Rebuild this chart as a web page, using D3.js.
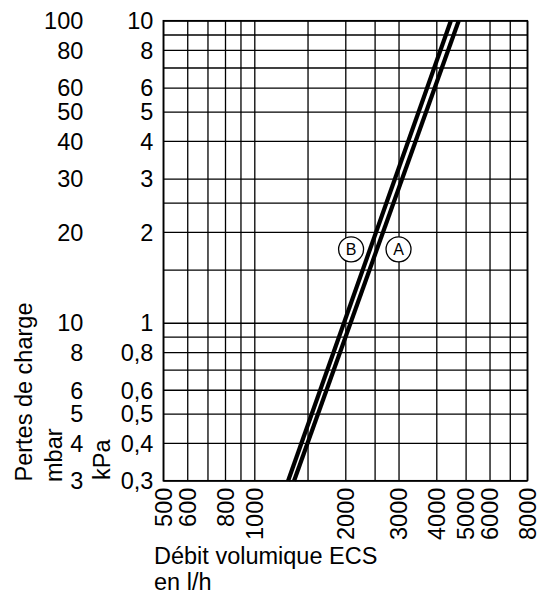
<!DOCTYPE html>
<html>
<head>
<meta charset="utf-8">
<script src="https://cdn.jsdelivr.net/npm/d3@7"></script>
<style>
    body { margin: 0; background: #fff; }
    svg { display: block; font-family: "Liberation Sans", Arial, sans-serif; }
    .grid line { stroke: #000; stroke-width: 1.3; }
</style>
</head>
<body>
<script>

// flow (l/h) on x, pressure loss on y, both log
let xTickValues = [500, 600, 800, 1000, 2000, 3000, 4000, 5000, 6000, 8000]
let xGridValues = [500, 600, 700, 800, 900, 1000, 1500, 2000, 2500, 3000, 4000, 5000, 6000, 7000, 8000]
let yGridValues = [0.3, 0.4, 0.5, 0.6, 0.7, 0.8, 0.9, 1, 1.5, 2, 2.5, 3, 4, 5, 6, 7, 8, 9, 10]

let kpaTicks = [10, 8, 6, 5, 4, 3, 2, 1, 0.8, 0.6, 0.5, 0.4, 0.3]
let kpaLabels = ["10", "8", "6", "5", "4", "3", "2", "1", "0,8", "0,6", "0,5", "0,4", "0,3"]
let mbarTicks = [100, 80, 60, 50, 40, 30, 20, 10, 8, 6, 5, 4, 3]

// curve A and B
let curveA_flow = [1354, 4745]
let curveA_kpa = [0.3, 10]
let curveB_flow = [1294, 4470]
let curveB_kpa = [0.3, 10]

let markNames = ["B", "A"]
let markFlow = [2090, 3000]
let markKpa = [1.75, 1.75]

let mLeft = 163.3, mTop = 20.7
let w = 364, h = 460
let fs = 23.5

let svg = d3.select("body")
            .append("svg")
                .attr("width", 544)
                .attr("height", 599)

let g = svg.append("g")
            .attr("transform", "translate(" + mLeft + "," + mTop + ")")

let x = d3.scaleLog().domain([500, 8000]).range([0, w])
let y = d3.scaleLog().domain([0.3, 10]).range([h, 0])
let yMbar = d3.scaleLog().domain([3, 100]).range([h, 0])

// grid
g.append("g")
    .attr("class", "grid")
    .attr("transform", "translate(0," + h + ")")
    .call(d3.axisBottom(x).tickValues(xGridValues).tickSize(-h).tickFormat(""))
    .call(a => a.select(".domain").remove())

g.append("g")
    .attr("class", "grid")
    .call(d3.axisLeft(y).tickValues(yGridValues).tickSize(-w).tickFormat(""))
    .call(a => a.select(".domain").remove())

g.append("rect")
    .attr("width", w)
    .attr("height", h)
    .attr("fill", "none")
    .attr("stroke", "#000")
    .attr("stroke-width", 1.5)

// x labels, turned
let xAxis = g.append("g")
            .attr("transform", "translate(0," + h + ")")
            .call(d3.axisBottom(x).tickValues(xTickValues).tickSize(0).tickFormat(d3.format("d")))
            .attr("font-family", null)
            .attr("font-size", fs)
xAxis.select(".domain").remove()
xAxis.selectAll("text")
    .attr("transform", "rotate(-90)")
    .attr("text-anchor", "end")
    .attr("x", -7)
    .attr("y", 0)
    .attr("dy", "0.35em")
    .attr("fill", "#000")

// kPa labels
let yAxis = g.append("g")
            .call(d3.axisLeft(y).tickValues(kpaTicks).tickSize(0).tickPadding(10)
                    .tickFormat((d, i) => kpaLabels[i]))
            .attr("font-family", null)
            .attr("font-size", fs)
yAxis.select(".domain").remove()
yAxis.selectAll("text")
    .attr("dy", "0.35em")
    .attr("fill", "#000")

// mbar labels
let mAxis = g.append("g")
            .call(d3.axisLeft(yMbar).tickValues(mbarTicks).tickSize(0).tickPadding(80)
                    .tickFormat(d3.format("d")))
            .attr("font-family", null)
            .attr("font-size", fs)
mAxis.select(".domain").remove()
mAxis.selectAll("text")
    .attr("dy", "0.35em")
    .attr("fill", "#000")

// the two curves
let line = d3.line()
            .x(d => x(d[0]))
            .y(d => y(d[1]))

let curves = [
    d3.zip(curveA_flow, curveA_kpa),
    d3.zip(curveB_flow, curveB_kpa)
]

g.selectAll(".curve")
    .data(curves)
    .enter()
    .append("path")
        .attr("class", "curve")
        .attr("d", line)
        .attr("fill", "none")
        .attr("stroke", "#000")
        .attr("stroke-width", 4.2)

// circled letters
let marks = g.selectAll(".mark")
            .data(markNames)
            .enter()
            .append("g")
                .attr("class", "mark")
                .attr("transform", (d, i) => "translate(" + x(markFlow[i]) + "," + y(markKpa[i]) + ")")

marks.append("circle")
    .attr("r", 12.5)
    .attr("fill", "#fff")
    .attr("stroke", "#000")
    .attr("stroke-width", 1.3)

marks.append("text")
    .text(d => d)
    .attr("text-anchor", "middle")
    .attr("dy", "0.36em")
    .attr("font-size", 16)

// titles
svg.append("text")
    .attr("transform", "translate(31.7,481.5) rotate(-90)")
    .attr("font-size", fs)
    .text("Pertes de charge")

svg.append("text")
    .attr("transform", "translate(62,482) rotate(-90)")
    .attr("font-size", fs)
    .text("mbar")

svg.append("text")
    .attr("transform", "translate(110,480) rotate(-90)")
    .attr("font-size", fs)
    .text("kPa")

svg.append("text")
    .attr("x", 154)
    .attr("y", 564)
    .attr("font-size", fs)
    .text("Débit volumique ECS")

svg.append("text")
    .attr("x", 154)
    .attr("y", 590)
    .attr("font-size", fs)
    .text("en l/h")

</script>
</body>
</html>
